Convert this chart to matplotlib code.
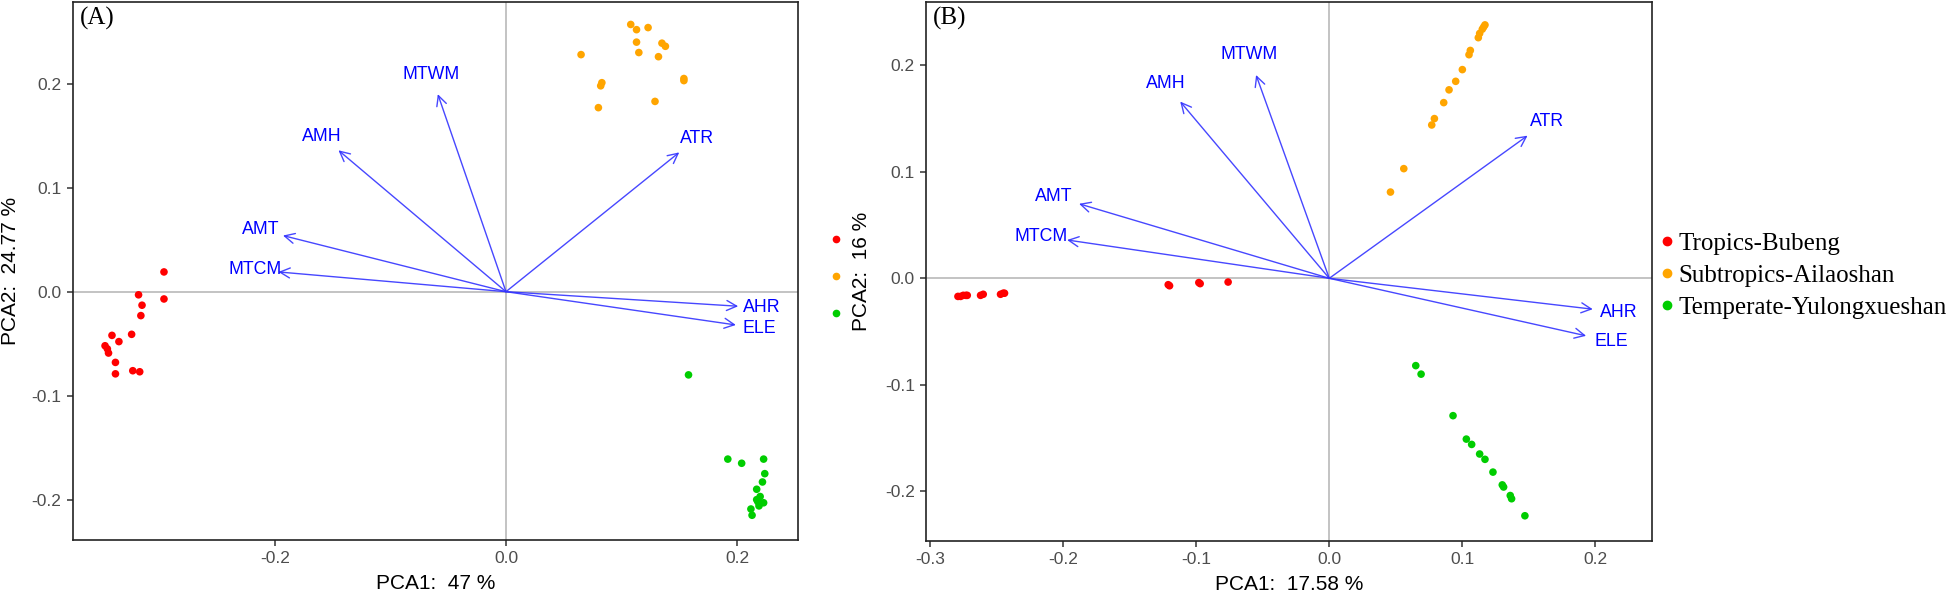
import matplotlib
matplotlib.use("Agg")
import matplotlib.pyplot as plt
from matplotlib.lines import Line2D
import numpy as np

plt.rcParams['axes.unicode_minus'] = False
plt.rcParams['font.family'] = ['Liberation Sans', 'DejaVu Sans']

# ---------------- data ----------------
groups = ["Tropics-Bubeng", "Subtropics-Ailaoshan", "Temperate-Yulongxueshan"]
group_colors = ["#FF0000", "#FFA500", "#00CD00"]
variables = ["MTWM", "AMH", "ATR", "AMT", "MTCM", "AHR", "ELE"]

# Panel A scores
a_trop_x = [-0.296, -0.296, -0.318, -0.315, -0.316, -0.341, -0.324, -0.335, -0.347, -0.345, -0.344, -0.338, -0.338, -0.323, -0.317]
a_trop_y = [0.019, -0.007, -0.003, -0.013, -0.023, -0.042, -0.041, -0.048, -0.052, -0.055, -0.059, -0.068, -0.079, -0.076, -0.077]
a_sub_x = [0.108, 0.113, 0.123, 0.113, 0.135, 0.138, 0.115, 0.132, 0.065, 0.083, 0.082, 0.154, 0.154, 0.129, 0.080]
a_sub_y = [0.257, 0.252, 0.254, 0.240, 0.239, 0.236, 0.230, 0.226, 0.228, 0.201, 0.198, 0.205, 0.203, 0.183, 0.177]
a_temp_x = [0.158, 0.192, 0.204, 0.223, 0.224, 0.222, 0.217, 0.220, 0.218, 0.223, 0.212, 0.219, 0.213, 0.217]
a_temp_y = [-0.080, -0.161, -0.165, -0.161, -0.175, -0.183, -0.190, -0.197, -0.202, -0.203, -0.209, -0.206, -0.215, -0.200]
# Panel A loadings (arrow tips)
a_load_x = [-0.059, -0.145, 0.150, -0.193, -0.197, 0.201, 0.199]
a_load_y = [0.190, 0.136, 0.134, 0.054, 0.019, -0.014, -0.032]

# Panel B scores
b_trop_x = [-0.279, -0.277, -0.275, -0.273, -0.272, -0.262, -0.260, -0.247, -0.245, -0.244, -0.121, -0.120, -0.098, -0.097, -0.076]
b_trop_y = [-0.017, -0.017, -0.016, -0.016, -0.016, -0.016, -0.015, -0.015, -0.014, -0.014, -0.006, -0.007, -0.004, -0.005, -0.0035]
b_sub_x = [0.117, 0.115, 0.113, 0.112, 0.106, 0.105, 0.100, 0.095, 0.090, 0.086, 0.079, 0.077, 0.056, 0.046, 0.116]
b_sub_y = [0.238, 0.234, 0.230, 0.226, 0.214, 0.210, 0.196, 0.185, 0.177, 0.165, 0.150, 0.144, 0.103, 0.081, 0.236]
b_temp_x = [0.065, 0.069, 0.093, 0.103, 0.107, 0.113, 0.117, 0.123, 0.130, 0.131, 0.136, 0.137, 0.147]
b_temp_y = [-0.082, -0.090, -0.129, -0.151, -0.156, -0.165, -0.170, -0.182, -0.194, -0.196, -0.204, -0.207, -0.223]
# Panel B loadings (arrow tips)
b_load_x = [-0.055, -0.112, 0.149, -0.188, -0.197, 0.198, 0.193]
b_load_y = [0.191, 0.166, 0.134, 0.070, 0.036, -0.029, -0.054]

pc_a = ("PCA1:  47 %", "PCA2:  24.77 %")
pc_b = ("PCA1:  17.58 %", "PCA2:  16 %")

# ---------------- figure ----------------
W, H = 1958, 596
fig = plt.figure(figsize=(W / 100, H / 100), dpi=100)

def fx(px):
    return px / W

def fy(py):
    return 1 - py / H

axA = fig.add_axes([fx(72.7), fy(540), fx(797.7) - fx(72.7), fy(2) - fy(540)])
axB = fig.add_axes([fx(926), fy(541), fx(1652) - fx(926), fy(2) - fy(541)])

arrow_col = (0.2, 0.2, 1.0, 0.9)

def draw(ax, scores, lx, ly, xlim, ylim, xticks, yticks, labels, tag):
    ax.axhline(0, color="#BEBEBE", lw=1.3, zorder=1)
    ax.axvline(0, color="#BEBEBE", lw=1.3, zorder=1)
    for (sx, sy), c in zip(scores, group_colors):
        ax.scatter(sx, sy, s=30, color=c, edgecolors="none", zorder=3)
    for v, x, y in zip(variables, lx, ly):
        ax.annotate("", xy=(x, y), xytext=(0, 0),
                    arrowprops=dict(arrowstyle="->", color=arrow_col, lw=1.0,
                                    mutation_scale=18, shrinkA=0, shrinkB=0),
                    zorder=4)
        ax.text(x * 1.1, y * 1.1, v, color="#0000FF", fontsize=12.8,
                ha="center", va="center", zorder=5)
    ax.set_xlim(*xlim)
    ax.set_ylim(*ylim)
    ax.set_xticks(xticks)
    ax.set_yticks(yticks)
    ax.set_xticklabels([f"{t:.1f}" for t in xticks])
    ax.set_yticklabels([f"{t:.1f}" for t in yticks])
    ax.tick_params(direction="out", length=4, width=1.1, color="#333333",
                   labelcolor="#4D4D4D", labelsize=12.5, pad=4)
    for s in ax.spines.values():
        s.set_color("#222222")
        s.set_linewidth(1.2)
    ax.set_xlabel(labels[0], fontsize=15, color="black", labelpad=6)
    ax.set_ylabel(labels[1], fontsize=15, color="black", labelpad=8)
    ax.text(0.01, 0.99, tag, transform=ax.transAxes, ha="left", va="top",
            fontsize=18, family=["Liberation Serif", "DejaVu Serif"])

draw(axA, [(a_trop_x, a_trop_y), (a_sub_x, a_sub_y), (a_temp_x, a_temp_y)],
     a_load_x, a_load_y, (-0.375, 0.2525), (-0.2388, 0.2786),
     [-0.2, 0.0, 0.2], [-0.2, -0.1, 0.0, 0.1, 0.2], pc_a, "(A)")
draw(axB, [(b_trop_x, b_trop_y), (b_sub_x, b_sub_y), (b_temp_x, b_temp_y)],
     b_load_x, b_load_y, (-0.303, 0.2425), (-0.2467, 0.2595),
     [-0.3, -0.2, -0.1, 0.0, 0.1, 0.2], [-0.2, -0.1, 0.0, 0.1, 0.2], pc_b, "(B)")

axA.yaxis.set_label_coords(-0.072, 0.5)
axB.yaxis.set_label_coords(-0.076, 0.5)

# legend
handles = [Line2D([], [], marker="o", ls="none", color=c, markersize=6) for c in group_colors]
leg = axB.legend(handles, groups, loc="center left", bbox_to_anchor=(1.0, 0.492),
                 frameon=False, handlelength=0.4, handletextpad=0.25,
                 labelspacing=0.38, borderaxespad=0.2, borderpad=0.2,
                 prop={"family": ["Liberation Serif", "DejaVu Serif"], "size": 18})

# stray clipped legend keys next to panel B y label
for c, py in zip(group_colors, [239, 276, 313]):
    fig.add_artist(Line2D([fx(836)], [fy(py)], marker="o", ls="none", color=c,
                          markersize=4.5, transform=fig.transFigure))

fig.savefig("out.png", dpi=100, facecolor="white")
